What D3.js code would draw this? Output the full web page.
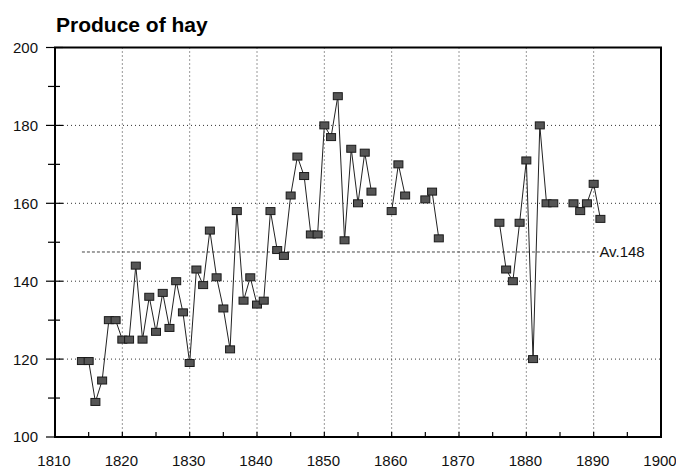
<!DOCTYPE html>
<html>
<head>
<meta charset="utf-8">
<script src="https://cdn.jsdelivr.net/npm/d3@7"></script>
<style>
  body { margin: 0; background: #fff; }
  svg { display: block; font-family: "Liberation Sans", Arial, Helvetica, sans-serif; }
</style>
</head>
<body>
<script>
// years and hay produce, null = no record
const years = [];
for (let yr = 1814; yr <= 1891; yr++) years.push(yr);

const produce = [
  119.5, 119.5, 109, 114.5, 130, 130, 125, 125, 144, 125,   // 1814-1823
  136, 127, 137, 128, 140, 132, 119, 143, 139, 153,         // 1824-1833
  141, 133, 122.5, 158, 135, 141, 134, 135, 158, 148,       // 1834-1843
  146.5, 162, 172, 167, 152, 152, 180, 177, 187.5, 150.5,   // 1844-1853
  174, 160, 173, 163, null, null, 158, 170, 162, null,      // 1854-1863
  null, 161, 163, 151, null, null, null, null, null, null,  // 1864-1873
  null, null, 155, 143, 140, 155, 171, 120, 180, 160,       // 1874-1883
  160, null, null, 160, 158, 160, 165, 156                  // 1884-1891
];

const average = 147.5;
const averageLabel = "Av.148";
const avgFrom = 1814, avgTo = 1890.7;

const xMajor = d3.range(1810, 1901, 10);
const xMinor = d3.range(1815, 1900, 10);
const yMajor = d3.range(100, 201, 20);
const yMinor = d3.range(110, 200, 20);

const data = years.map((yr, i) => ({ year: yr, value: produce[i] }));

const width = 676, height = 469;
const plot = { left: 55, right: 661, top: 47.5, bottom: 437 };

const svg = d3.select("body").append("svg")
    .attr("width", width)
    .attr("height", height);

const x = d3.scaleLinear().domain([1810, 1900]).range([plot.left, plot.right]);
const y = d3.scaleLinear().domain([100, 200]).range([plot.bottom, plot.top]);

// dotted grid
svg.append("g").selectAll("line")
    .data(xMajor.filter(d => d > 1810 && d < 1900))
    .enter().append("line")
    .attr("x1", d => x(d)).attr("x2", d => x(d))
    .attr("y1", plot.top).attr("y2", plot.bottom)
    .attr("stroke", "#333").attr("stroke-width", 1)
    .attr("stroke-dasharray", "1,3");

svg.append("g").selectAll("line")
    .data(yMajor.filter(d => d > 100 && d < 200))
    .enter().append("line")
    .attr("x1", plot.left).attr("x2", plot.right)
    .attr("y1", d => y(d)).attr("y2", d => y(d))
    .attr("stroke", "#333").attr("stroke-width", 1)
    .attr("stroke-dasharray", "1,3");

// average line
svg.append("line")
    .attr("x1", x(avgFrom)).attr("x2", x(avgTo))
    .attr("y1", y(average)).attr("y2", y(average))
    .attr("stroke", "#444").attr("stroke-width", 1)
    .attr("stroke-dasharray", "3,2");

svg.append("text")
    .attr("x", x(avgTo) + 1)
    .attr("y", y(average))
    .attr("dy", "0.35em")
    .attr("font-size", 15)
    .attr("fill", "#111")
    .text(averageLabel);

// frame
svg.append("rect")
    .attr("x", plot.left).attr("y", plot.top)
    .attr("width", plot.right - plot.left).attr("height", plot.bottom - plot.top)
    .attr("fill", "none").attr("stroke", "#000").attr("stroke-width", 2);

// y ticks (crossing the axis)
svg.append("g").selectAll("line")
    .data(yMajor)
    .enter().append("line")
    .attr("x1", plot.left - 9).attr("x2", plot.left + 8)
    .attr("y1", d => y(d)).attr("y2", d => y(d))
    .attr("stroke", "#000").attr("stroke-width", 1.2);

svg.append("g").selectAll("line")
    .data(yMinor)
    .enter().append("line")
    .attr("x1", plot.left - 7).attr("x2", plot.left + 5)
    .attr("y1", d => y(d)).attr("y2", d => y(d))
    .attr("stroke", "#000").attr("stroke-width", 1.2);

svg.append("g").selectAll("text")
    .data(yMajor)
    .enter().append("text")
    .attr("x", 38)
    .attr("y", d => y(d))
    .attr("dy", "0.36em")
    .attr("text-anchor", "end")
    .attr("font-size", 15)
    .attr("fill", "#111")
    .text(d => d);

// x ticks (inside, upward)
svg.append("g").selectAll("line")
    .data(xMajor.concat(xMinor))
    .enter().append("line")
    .attr("x1", d => x(d)).attr("x2", d => x(d))
    .attr("y1", plot.bottom - 5).attr("y2", plot.bottom)
    .attr("stroke", "#000").attr("stroke-width", 1.2);

svg.append("g").selectAll("text")
    .data(xMajor)
    .enter().append("text")
    .attr("x", d => x(d) - 1)
    .attr("y", 466)
    .attr("text-anchor", "middle")
    .attr("font-size", 15)
    .attr("fill", "#111")
    .text(d => d);

// series line with gaps
const line = d3.line()
    .defined(d => d.value !== null)
    .x(d => x(d.year))
    .y(d => y(d.value));

svg.append("path")
    .datum(data)
    .attr("d", line)
    .attr("fill", "none")
    .attr("stroke", "#222")
    .attr("stroke-width", 1);

// square markers
svg.append("g").selectAll("rect")
    .data(data.filter(d => d.value !== null))
    .enter().append("rect")
    .attr("x", d => x(d.year) - 4.5)
    .attr("y", d => y(d.value) - 3.5)
    .attr("width", 9)
    .attr("height", 7)
    .attr("fill", "#555")
    .attr("stroke", "#1a1a1a")
    .attr("stroke-width", 1);

// title
svg.append("text")
    .attr("x", 56)
    .attr("y", 32)
    .attr("font-size", 21)
    .attr("font-weight", "bold")
    .attr("fill", "#000")
    .text("Produce of hay");
</script>
</body>
</html>
